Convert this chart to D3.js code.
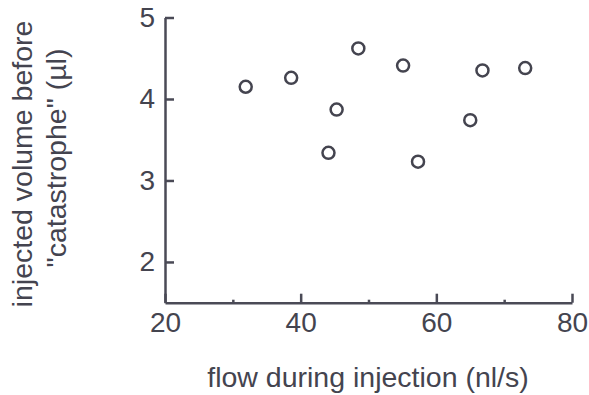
<!DOCTYPE html>
<html>
<head>
<meta charset="utf-8">
<script src="https://cdn.jsdelivr.net/npm/d3@7"></script>
<style>
  body { margin: 0; background: #fff; }
  svg { display: block; font-family: "Liberation Sans", Arial, Helvetica, sans-serif; }
  .axis path, .axis line { stroke: #4a4a56; stroke-width: 2.5; }
  .axis text { fill: #44444f; font-size: 28px; font-family: "Liberation Sans", Arial, sans-serif; }
  .title { fill: #44444f; font-size: 28.5px; }
</style>
</head>
<body>
<svg id="chart" width="589" height="395"></svg>
<script>
// flow (nl/s) vs injected volume before "catastrophe" (ul)
var flowValues = [31.9, 38.6, 48.5, 55.1, 66.8, 73.1, 45.3, 65.0, 44.1, 57.3];
var volumeValues = [4.15, 4.26, 4.62, 4.41, 4.35, 4.38, 3.87, 3.74, 3.34, 3.23];

var xTicks = [20, 40, 60, 80];
var xMinorTicks = [30, 50, 70];
var yTicks = [2, 3, 4, 5];

var svg = d3.select("#chart");

var x = d3.scaleLinear().domain([20, 80]).range([165, 572]);
var y = d3.scaleLinear().domain([1.5, 5]).range([302.7, 17.5]);

// minor ticks on x axis
svg.append("g")
	.attr("class", "axis")
	.attr("transform", "translate(0," + y(1.5) + ")")
	.call(d3.axisBottom(x).tickValues(xMinorTicks).tickSize(-3).tickSizeOuter(0).tickFormat(""))
	.call(function(g) { g.select(".domain").remove(); });

// x axis
svg.append("g")
	.attr("class", "axis")
	.attr("transform", "translate(0," + y(1.5) + ")")
	.call(d3.axisBottom(x).tickValues(xTicks).tickSize(-9).tickSizeOuter(0).tickPadding(9).tickFormat(d3.format("d")))
	.call(function(g) { g.selectAll("text").attr("font-size", null).attr("font-family", null); });

// y axis
svg.append("g")
	.attr("class", "axis")
	.attr("transform", "translate(" + x(20) + ",0)")
	.call(d3.axisLeft(y).tickValues(yTicks).tickSize(-9).tickSizeOuter(0).tickPadding(10).tickFormat(d3.format("d")))
	.call(function(g) { g.selectAll("text").attr("font-size", null).attr("font-family", null); });

// points
var points = flowValues.map(function(d, i) { return { flow: d, volume: volumeValues[i] }; });

svg.append("g")
	.selectAll("circle")
	.data(points)
	.enter()
	.append("circle")
	.attr("cx", function(d) { return x(d.flow); })
	.attr("cy", function(d) { return y(d.volume); })
	.attr("r", 6)
	.style("fill", "none")
	.style("stroke", "#44444f")
	.style("stroke-width", 2.5);

// axis titles
svg.append("text")
	.attr("class", "title")
	.attr("x", 368)
	.attr("y", 387)
	.style("text-anchor", "middle")
	.text("flow during injection (nl/s)");

svg.append("text")
	.attr("class", "title")
	.attr("transform", "translate(32,164) rotate(-90)")
	.style("text-anchor", "middle")
	.text("injected volume before");

svg.append("text")
	.attr("class", "title")
	.attr("transform", "translate(66,158) rotate(-90)")
	.style("text-anchor", "middle")
	.text("\"catastrophe\" (\u00b5l)");
</script>
</body>
</html>
